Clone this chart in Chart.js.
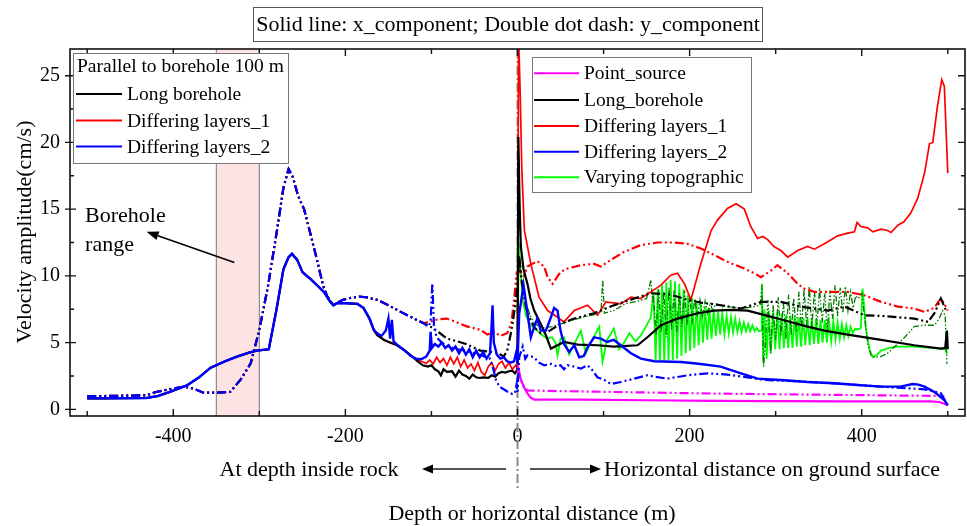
<!DOCTYPE html>
<html lang="en">
<head>
  <meta charset="UTF-8" />
  <title>Velocity amplitude vs depth / horizontal distance</title>
  <script src="https://cdn.jsdelivr.net/npm/chart.js"></script>
  <style>
    body { margin: 0; background: #fff; }
  </style>
</head>
<body>
  <canvas id="velChart" width="967" height="526"></canvas>

  <script>
    // ---- data: [distance (m), velocity (cm/s)], negative = depth inside rock ----

    // x-component, depth side (all three models coincide down to about -167 m)
    const depthSolidCommon = [[-500,0.82],[-480,0.82],[-460,0.83],[-431,0.85],[-418,1.0],[-404,1.3],[-384,1.8],[-370,2.4],[-357,3.1],[-340,3.6],[-326,3.95],[-312,4.25],[-303,4.4],[-289,4.5],[-280,7.5],[-272,10.5],[-266,11.4],[-262,11.65],[-256,11.2],[-250,10.3],[-246,10.05],[-241,9.8],[-233,9.3],[-225,8.8],[-218,8.1],[-214,7.8],[-210,7.95],[-200,7.95],[-186,7.9],[-179,7.6],[-172,6.8],[-167,5.95]];
    const boreSolidDepth = [[-163,5.55],[-155,5.2],[-148,5.0],[-140,4.8],[-132,4.45],[-124,4.05],[-116,3.6],[-110,3.3],[-104,3.2],[-100,3.3],[-96,3.0],[-92,2.85],[-89,2.55],[-86,3.0],[-82,2.8],[-76,2.85],[-72,2.45],[-68,2.9],[-64,2.6],[-60,2.5],[-56,2.3],[-52,2.6],[-48,2.4],[-44,2.35],[-40,2.4],[-34,2.35],[-30,2.55],[-26,2.45],[-22,2.7],[-18,2.8],[-14,2.75],[-10,2.85],[-6,2.9],[-3,2.7],[0,3.0]];
    const layers1SolidDepth = [[-163,5.55],[-155,5.2],[-148,5.0],[-140,4.8],[-132,4.45],[-124,4.05],[-116,3.7],[-110,3.55],[-106,3.45],[-102,3.7],[-98,3.4],[-94,3.9],[-90,3.5],[-86,3.8],[-82,3.3],[-78,3.9],[-74,3.4],[-70,3.9],[-66,3.2],[-62,3.7],[-58,3.1],[-54,3.4],[-50,2.9],[-46,3.5],[-42,2.8],[-38,2.55],[-34,3.2],[-30,3.5],[-26,2.9],[-22,3.4],[-18,3.6],[-14,3.1],[-10,3.5],[-6,3.0],[-2,3.3],[0,3.1]];
    const layers2SolidDepth = [[-163,5.7],[-158,5.5],[-153,5.9],[-150,6.8],[-148,5.3],[-146,6.7],[-144,5.1],[-140,4.85],[-132,4.45],[-124,4.0],[-118,3.8],[-112,3.75],[-106,3.95],[-102,4.4],[-101,5.8],[-99.5,4.6],[-96,4.9],[-92,4.7],[-88,5.0],[-84,4.6],[-80,4.8],[-76,4.4],[-72,4.7],[-68,4.2],[-64,4.6],[-60,4.1],[-56,4.5],[-52,3.9],[-48,4.4],[-44,3.9],[-40,4.3],[-36,3.8],[-32,4.2],[-30,6.4],[-29,7.8],[-27.5,5.0],[-24,4.1],[-20,3.8],[-16,3.9],[-12,3.6],[-8,3.5],[-4,3.6],[-1,4.4],[0,3.5]];

    // y-component, depth side
    const depthDashCommon = [[-500,1.0],[-480,1.0],[-460,1.02],[-431,1.05],[-420,1.3],[-405,1.5],[-388,1.7],[-376,1.55],[-365,1.25],[-350,1.25],[-334,1.3],[-322,2.2],[-310,3.45],[-300,5.95],[-290,9.2],[-280,13.2],[-272,16.6],[-266,18.0],[-261,17.4],[-255,16.0],[-248,15.0],[-240,13.0],[-233,11.2],[-226,9.3],[-221,8.45],[-214,7.8],[-210,7.95],[-203,8.2],[-194,8.35],[-184,8.45],[-176,8.4],[-163,8.2],[-150,7.8],[-140,7.45],[-125,6.95],[-109,6.45]];
    const boreDashDepth = [[-100,6.15],[-90,5.7],[-82,5.3],[-70,5.1],[-60,4.9],[-50,4.6],[-43,4.4],[-30,4.3],[-23,4.25],[-16,3.95],[-12,4.4],[-8,5.6],[-5,6.7],[-2,8.2],[0,9.4]];
    const layers1DashDepth = [[-100,6.6],[-97,6.7],[-90,6.75],[-82,6.8],[-70,6.5],[-58,6.2],[-43,5.95],[-35,5.6],[-27,5.8],[-20,5.5],[-12,5.7],[-7,6.5],[-4,8.2],[-1,10.2],[0,10.3]];
    const layers2DashDepth = [[-104,6.2],[-101,6.5],[-99,9.45],[-97,6.2],[-94,5.4],[-88,5.0],[-80,4.7],[-70,4.5],[-60,4.4],[-50,4.2],[-40,4.0],[-32,3.8],[-28,3.0],[-25,2.2],[-21,1.7],[-16,1.5],[-11,1.3],[-6,1.15],[-3,1.2],[-1,1.9],[0,1.3]];

    // ground surface side, x-component
    const pointSolidSurf = [[0,3.4],[4,2.2],[8,1.6],[11.6,1.2],[15,0.9],[19.4,0.72],[40,0.72],[73.6,0.72],[150,0.68],[228.7,0.63],[300,0.61],[383.7,0.6],[450,0.6],[480,0.6],[490,0.55],[496,0.42],[500,0.3]];
    const boreSolidSurf = [[1,20.4],[2.5,15.2],[3.9,12.2],[7,10.5],[11.6,9.4],[15,8.3],[19.4,7.4],[27,6.4],[33,5.55],[38.8,4.55],[46.5,4.8],[54,5.05],[70,4.85],[93,4.8],[112,4.7],[139.5,4.8],[151,5.4],[166.7,6.3],[186,6.8],[209,7.2],[228.7,7.4],[248,7.45],[267.4,7.4],[290.7,7.0],[314,6.6],[337,6.2],[356.6,5.9],[383.7,5.6],[422.5,5.2],[461,4.8],[492,4.55],[497,4.6],[499,5.9],[500,4.5]];
    const layers1SolidSurf = [[1.2,28],[3,24],[5,18],[8,13.4],[15.5,10.9],[25,8.4],[35,7.4],[46.5,6.9],[54,6.55],[66,7.4],[81.5,7.8],[93,7.05],[102.7,8.05],[120,7.9],[131.8,8.4],[143,8.3],[155,8.8],[166.7,9.3],[178,10.05],[186,10.2],[194,9.4],[201.5,8.2],[213,10.9],[225,13.4],[232.6,14.2],[244,15.05],[254,15.4],[263.6,15.0],[271,13.7],[279,12.8],[285,12.95],[291,12.7],[298,12.2],[306,11.9],[314,11.4],[325.6,11.9],[337,12.2],[345,12.0],[356.6,12.4],[372,13.0],[384,13.2],[391.5,13.3],[394.6,14.0],[399,13.7],[407,13.6],[413,13.3],[422.5,13.5],[430,13.4],[434,13.25],[442,13.8],[449,14.05],[457,14.7],[465,15.8],[473,17.7],[478.7,19.9],[482.6,20.0],[488,22.7],[493,24.7],[496,24.2],[500,17.7]];
    const layers2SolidSurf = [[2,7.2],[4,8.0],[7,9.3],[9,8.4],[11.6,7.2],[15.5,5.4],[19.4,6.2],[23,6.8],[27,5.9],[33,5.9],[38.8,6.9],[42.6,7.6],[46.5,7.4],[50,5.9],[54,4.9],[60,4.3],[66,4.8],[71.7,3.9],[77,4.0],[81.4,4.65],[89,5.4],[97,5.3],[104,5.05],[112,5.2],[120,4.8],[131.8,4.2],[143.4,3.8],[159,3.6],[190,3.55],[213,3.4],[236,3.2],[259.7,2.7],[279,2.3],[306,2.2],[337,2.05],[368,1.95],[399,1.8],[422.5,1.7],[445,1.7],[459,1.9],[466,1.85],[473,1.7],[484.5,1.3],[496,0.7],[500,0.3]];
    const topoSolidSurf = [[0,3.0],[1.5,12.5],[3,11.0],[6,8.2],[10,7.0],[15,6.3],[23,5.9],[30,5.5],[35,5.3],[40,5.4],[44,5.0],[46.5,4.05],[50,5.3],[54,5.4],[60,4.1],[66,4.9],[73.6,5.9],[79.5,4.2],[85,5.0],[90,5.6],[95,6.2],[98.8,3.55],[104,5.2],[112,6.05],[118,4.5],[124,5.0],[130,5.7],[137,5.1],[143,5.5],[151,6.4],[155,6.9],
      [158,8.8],[160.5,3.7],[163,9.0],[165.5,3.6],[168,9.3],[170.5,3.6],[173,9.5],[175.5,3.7],[178,9.7],[180.5,3.7],[183,9.6],[185.5,3.8],[188,9.4],[190.5,4.0],[193,9.0],[195.5,4.2],[198,8.6],[200.5,4.4],[203,8.3],[205.5,4.6],[208,8.1],[210.5,4.8],[213,7.9],[215.5,5.0],[218,7.7],[220.5,5.2],[223,7.6],[225.5,5.3],[228,7.5],[230.5,5.5],[233,7.3],[235.5,5.6],[238,7.2],[240.5,5.6],[243,7.0],[245.5,5.7],[248,6.9],[250.5,5.75],[253,6.8],[255.5,5.8],[258,6.6],[260.5,5.8],[263,6.5],[265.5,5.85],[268,6.4],[270.5,5.85],[273,6.3],[275.5,5.85],[278,6.1],[280.5,5.85],[283,5.9],
      [284,9.4],[285.5,3.5],
      [287,7.5],[289.5,3.8],[292,7.4],[294.5,4.2],[297,7.3],[299.5,4.5],[302,7.3],[304.5,4.5],[307,7.2],[309.5,4.6],[312,7.1],[314.5,4.6],[317,7.0],[319.5,4.6],[322,7.0],[324.5,4.7],[327,6.9],[329.5,4.7],[332,6.9],[334.5,4.8],[337,6.9],[339.5,4.8],[342,6.8],[344.5,4.9],[347,6.8],[349.5,4.9],[352,6.7],[354.5,5.0],[357,6.7],[359.5,5.0],[362,6.6],[364.5,5.1],[367,6.6],[369.5,5.2],[372,6.5],[374.5,5.3],[377,6.4],[379.5,5.4],[382,6.3],[384.5,5.5],[387,6.2],[389.5,5.7],[392,6.0],
      [396,6.0],[399,6.1],[401,9.05],[405,6.0],[409,4.5],[413,3.9],[418,4.1],[422.5,4.4],[432,4.6],[442,4.7],[460,4.7],[480,4.6],[492,4.55],[497,4.5],[499,4.2],[500,4.2]];

    // ground surface side, y-component
    const pointDashSurf = [[0,3.0],[3,2.4],[5.8,1.9],[8,1.6],[11.6,1.42],[35,1.38],[112,1.3],[228.7,1.18],[345,1.1],[420,1.05],[496,1.0]];
    const boreDashSurf = [[2,11.5],[5,9.5],[10,7.6],[15,6.7],[20,6.1],[27,5.7],[35,5.8],[50,6.4],[66,6.8],[89,7.2],[112,7.8],[135.7,8.3],[155,8.7],[178,8.6],[197.7,8.2],[213,8.0],[236,7.8],[259.7,7.55],[283,8.05],[306,8.05],[329.5,7.7],[360.5,7.4],[380,7.7],[403,7.05],[422.5,7.0],[442,6.9],[461,6.8],[477,6.55],[484.5,7.2],[492,8.3],[498,7.4]];
    const layers1DashSurf = [[2,10.4],[7.4,10.0],[11.6,10.7],[23,11.1],[31,10.7],[35,9.9],[40.7,9.4],[50,10.3],[58,10.55],[73.6,10.8],[89,10.9],[97,10.7],[108.5,11.2],[124,11.8],[143,12.3],[163,12.5],[182,12.5],[198,12.4],[213,12.05],[229,11.55],[244,11.05],[263.6,10.55],[275,10.2],[283,9.9],[294.6,10.4],[302,10.8],[314,10.2],[325.6,9.4],[333,9.05],[345,8.8],[364,8.8],[383.7,8.8],[403,8.55],[422.5,8.05],[442,7.7],[461,7.55],[473,7.3],[484,7.6],[492,8.3],[496,7.9],[500,7.4]];
    const layers2DashSurf = [[2,3.9],[6,4.7],[9,3.8],[11.6,4.05],[19,3.9],[25,3.5],[31,3.3],[38.8,3.4],[46.5,3.2],[50,3.3],[54,3.0],[58,3.3],[66,3.2],[73.6,3.05],[81,3.3],[85,3.1],[93,2.4],[100.8,2.2],[108.5,1.9],[120,2.05],[135.7,2.3],[151,2.55],[159,2.45],[174,2.3],[197.7,2.55],[221,2.7],[244,2.6],[267,2.4],[287,2.2],[325.6,2.1],[368,1.95],[422.5,1.7],[473,1.5],[492,1.2],[500,0.3]];
    const topoDashSurf = [[0,12.0],[2,11.4],[4,10.0],[7,8.8],[10,7.9],[15,7.0],[20,6.4],[30,6.1],[40,6.2],[50,6.4],[60,6.6],[75,6.9],[90,7.1],[97,7.3],[99,9.7],[101,7.2],[112,7.4],[125,7.9],[140,8.1],[150,8.3],[155,9.7],[157,8.0],
      [158,8.5],[161,5.6],[164,9.0],[167,5.8],[170,8.8],[173,5.4],[176,9.1],[179,6.0],[182,8.9],[185,5.8],[188,8.7],[191,6.2],[194,8.9],[197,6.3],[200,8.5],[203,6.6],[206,8.3],[209,6.9],[212,8.2],[215,7.0],[218,8.1],[221,7.2],[224,8.0],[227,7.3],[230,7.9],[236,7.8],[245,7.7],[255,7.6],[265,7.6],[275,7.7],[282,7.8],
      [284,9.3],[286,3.2],
      [288,5.0],[291,8.2],[294,4.2],[297,7.8],[300,5.2],[303,8.4],[306,5.5],[309,8.0],[312,5.3],[315,8.6],[318,5.6],[321,8.3],[324,5.8],[327,8.8],[330,6.0],[333,9.0],[336,6.2],[339,9.2],[342,6.1],[345,8.9],[348,6.3],[351,9.1],[354,6.5],[357,8.7],[360,5.9],[363,8.9],[366,6.8],[369,9.3],[372,7.0],[375,9.1],[378,7.2],[381,9.2],[384,7.4],[387,8.8],[390,7.6],[393,8.5],[396,8.3],
      [400,8.7],[404,6.5],[407,4.9],[411,4.0],[415,3.9],[422,3.95],[430,4.2],[440,4.8],[450,5.4],[461,6.2],[472,6.3],[484.5,6.3],[490,6.8],[494,7.4],[497,7.0],[499,3.4]];

    const boreholeRange = [-350, -300];
    const xTickLabels = [-400, -200, 0, 200, 400];
    const yTickLabels = [0, 5, 10, 15, 20, 25];
    const xRange = [-520, 520];
    const yRange = [-0.5, 27];

    // ---- styling helpers ----
    const SERIF = "'Liberation Serif', 'Times New Roman', serif";
    const DDD = [9, 3, 2, 3, 2, 3];          // double dot dash
    const DDD_FINE = [6, 2, 1.5, 2, 1.5, 2];

    const C = {
      black: '#000000', red: '#ff0000', blue: '#0000ff',
      magenta: '#ff00ff', green: '#00ff00', darkGreen: '#007a00'
    };

    function series(data, color, width, dash) {
      return {
        data, borderColor: color, borderWidth: width,
        borderDash: dash || [], pointRadius: 0, tension: 0, fill: false
      };
    }

    // first dataset is painted last (on top)
    const datasets = [
      series(depthSolidCommon.concat(layers2SolidDepth, layers2SolidSurf), C.blue, 2.4),
      series(depthDashCommon.concat(layers2DashDepth, layers2DashSurf), C.blue, 2.2, DDD),
      series(pointSolidSurf, C.magenta, 2.2),
      series(pointDashSurf, C.magenta, 2.2, DDD),
      series(depthSolidCommon.concat(boreSolidDepth, boreSolidSurf), C.black, 2.2),
      series(depthDashCommon.concat(boreDashDepth, boreDashSurf), C.black, 2.2, DDD),
      series(depthSolidCommon.concat(layers1SolidDepth, layers1SolidSurf), C.red, 1.7),
      series(depthDashCommon.concat(layers1DashDepth, layers1DashSurf), C.red, 2.2, DDD),
      series(topoDashSurf, C.darkGreen, 1.3, DDD_FINE),
      series(topoSolidSurf, C.green, 1.8)
    ];

    function arrow(ctx, x0, y0, x1, y1, len, half) {
      const ang = Math.atan2(y1 - y0, x1 - x0);
      const bx = x1 - len * Math.cos(ang), by = y1 - len * Math.sin(ang);
      ctx.beginPath();
      ctx.moveTo(x0, y0);
      ctx.lineTo(bx, by);
      ctx.stroke();
      ctx.beginPath();
      ctx.moveTo(x1, y1);
      ctx.lineTo(bx + half * Math.sin(ang), by - half * Math.cos(ang));
      ctx.lineTo(bx - half * Math.sin(ang), by + half * Math.cos(ang));
      ctx.closePath();
      ctx.fill();
    }

    function legendBox(ctx, box, header, items) {
      ctx.fillStyle = '#fff';
      ctx.fillRect(box.x, box.y, box.w, box.h);
      ctx.strokeStyle = '#777';
      ctx.lineWidth = 1;
      ctx.strokeRect(box.x + 0.5, box.y + 0.5, box.w, box.h);
      ctx.font = '19.5px ' + SERIF;
      ctx.textBaseline = 'middle';
      ctx.textAlign = 'left';
      ctx.fillStyle = '#000';
      if (header) ctx.fillText(header.text, header.x, header.y);
      items.forEach(it => {
        ctx.strokeStyle = it.color;
        ctx.lineWidth = 2;
        ctx.beginPath();
        ctx.moveTo(box.lineX0, it.y);
        ctx.lineTo(box.lineX1, it.y);
        ctx.stroke();
        ctx.fillStyle = '#000';
        ctx.fillText(it.label, box.textX, it.y + 1);
      });
    }

    const decorations = {
      id: 'decorations',
      beforeDatasetsDraw(chart) {
        const { ctx, chartArea: a, scales: { x } } = chart;
        ctx.save();
        const b0 = x.getPixelForValue(boreholeRange[0]);
        const b1 = x.getPixelForValue(boreholeRange[1]);
        ctx.fillStyle = '#fde3e3';
        ctx.fillRect(b0, a.top, b1 - b0, a.bottom - a.top);
        ctx.strokeStyle = '#777';
        ctx.lineWidth = 1;
        ctx.beginPath();
        ctx.moveTo(b0, a.top); ctx.lineTo(b0, a.bottom);
        ctx.moveTo(b1, a.top); ctx.lineTo(b1, a.bottom);
        ctx.stroke();

        // depth / surface divider, runs down through the direction labels
        const xz = x.getPixelForValue(0);
        ctx.strokeStyle = '#8a8a8a';
        ctx.lineWidth = 2;
        ctx.setLineDash([9, 3, 2, 3]);
        ctx.beginPath();
        ctx.moveTo(xz, a.top);
        ctx.lineTo(xz, 488);
        ctx.stroke();
        ctx.restore();
      },
      afterDatasetsDraw(chart) {
        const { ctx, chartArea: a, scales: { x, y } } = chart;
        ctx.save();

        // frame
        ctx.strokeStyle = '#111';
        ctx.lineWidth = 1.6;
        ctx.strokeRect(a.left, a.top, a.right - a.left, a.bottom - a.top);

        // tick marks every 100 m / 2.5 cm/s, drawn inward; left majors also poke out
        ctx.lineWidth = 1.4;
        ctx.beginPath();
        for (let v = -500; v <= 500; v += 100) {
          const px = x.getPixelForValue(v);
          const len = v % 200 === 0 ? 7 : 5;
          ctx.moveTo(px, a.bottom); ctx.lineTo(px, a.bottom - len);
          ctx.moveTo(px, a.top); ctx.lineTo(px, a.top + len);
        }
        for (let v = 0; v <= 25; v += 2.5) {
          const py = y.getPixelForValue(v);
          const major = v % 5 === 0;
          ctx.moveTo(a.left - (major ? 5 : 0), py); ctx.lineTo(a.left + (major ? 6 : 4), py);
          ctx.moveTo(a.right, py); ctx.lineTo(a.right - (major ? 7 : 4), py);
        }
        ctx.stroke();

        // legends
        legendBox(ctx,
          { x: 73, y: 53, w: 215, h: 110, lineX0: 76, lineX1: 122, textX: 127 },
          { text: 'Parallel to borehole 100 m', x: 77, y: 67 },
          [
            { label: 'Long borehole', color: C.black, y: 94 },
            { label: 'Differing layers_1', color: C.red, y: 120.5 },
            { label: 'Differing layers_2', color: C.blue, y: 146.5 }
          ]);
        legendBox(ctx,
          { x: 532, y: 57, w: 219, h: 135, lineX0: 534, lineX1: 579, textX: 584 },
          null,
          [
            { label: 'Point_source', color: C.magenta, y: 73.3 },
            { label: 'Long_borehole', color: C.black, y: 100 },
            { label: 'Differing layers_1', color: C.red, y: 126 },
            { label: 'Differing layers_2', color: C.blue, y: 151.7 },
            { label: 'Varying topographic', color: C.green, y: 177.3 }
          ]);

        // borehole range note
        ctx.fillStyle = '#000';
        ctx.strokeStyle = '#000';
        ctx.font = '22px ' + SERIF;
        ctx.textAlign = 'left';
        ctx.textBaseline = 'middle';
        ctx.fillText('Borehole', x.getPixelForValue(-502.5), y.getPixelForValue(14.45));
        ctx.fillText('range', x.getPixelForValue(-502.5), y.getPixelForValue(12.3));
        ctx.lineWidth = 1.5;
        arrow(ctx, x.getPixelForValue(-329), y.getPixelForValue(11.0),
                   x.getPixelForValue(-431), y.getPixelForValue(13.3), 12, 4.5);

        // top caption box
        ctx.fillStyle = '#fff';
        ctx.fillRect(253, 7, 509, 34);
        ctx.strokeStyle = '#555';
        ctx.lineWidth = 1;
        ctx.strokeRect(253.5, 7.5, 509, 34);
        ctx.fillStyle = '#000';
        ctx.textAlign = 'center';
        ctx.fillText('Solid line: x_component; Double dot dash: y_component', 508, 25);

        // direction labels under the axis
        ctx.fillText('At depth inside rock', 309, 470);
        ctx.textAlign = 'left';
        ctx.fillText('Horizontal distance on ground surface', 604, 470);
        ctx.lineWidth = 2;
        arrow(ctx, 506, 469, 422, 469, 11, 4.5);
        arrow(ctx, 530, 469, 601, 469, 11, 4.5);

        // axis titles
        ctx.textAlign = 'center';
        ctx.fillText('Depth or horizontal distance (m)', 532, 514);
        ctx.translate(25, 232);
        ctx.rotate(-Math.PI / 2);
        ctx.fillText('Velocity amplitude(cm/s)', 0, 0);
        ctx.restore();
      }
    };

    const tickFont = { family: SERIF, size: 20 };

    new Chart(document.getElementById('velChart'), {
      type: 'line',
      data: { datasets },
      plugins: [decorations],
      options: {
        responsive: false,
        animation: false,
        devicePixelRatio: 1,
        layout: { padding: { top: 49, right: 2, left: 0, bottom: 0 } },
        plugins: {
          legend: { display: false },
          title: { display: false },
          tooltip: { enabled: false }
        },
        scales: {
          x: {
            type: 'linear',
            min: xRange[0],
            max: xRange[1],
            grid: { display: false, drawTicks: false },
            border: { display: false },
            ticks: { padding: 9, color: '#000', font: tickFont },
            afterBuildTicks: s => { s.ticks = xTickLabels.map(value => ({ value })); },
            afterFit: s => { s.height = 110; }
          },
          y: {
            type: 'linear',
            min: yRange[0],
            max: yRange[1],
            grid: { display: false, drawTicks: false },
            border: { display: false },
            ticks: { padding: 10, color: '#000', font: tickFont },
            afterBuildTicks: s => { s.ticks = yTickLabels.map(value => ({ value })); },
            afterFit: s => { s.width = 70; }
          }
        }
      }
    });
  </script>
</body>
</html>
